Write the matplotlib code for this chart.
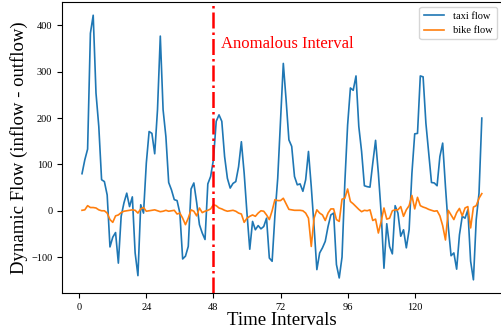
import numpy as np
import matplotlib
matplotlib.use('Agg')
from matplotlib import pyplot as plt

plt.rcParams['font.family'] = ['Liberation Serif', 'DejaVu Serif']

# time index of each sample
t = np.arange(1, 145)

taxi_flow = [80, 110, 133, 383, 422, 254, 182, 67, 63, 34,
             -78, -57, -47, -113, -12, 17, 38, 9, 30, -91,
             -140, 13, -5, 103, 171, 167, 123, 218, 377, 218,
             160, 61, 45, 24, 22, -5, -104, -98, -77, 47,
             60, 18, -30, -48, -62, 58, 74, 110, 193, 207,
             193, 117, 70, 49, 59, 63, 95, 149, 81, -5,
             -83, -23, -41, -32, -39, -34, -16, -102, -109, -10,
             70, 195, 318, 239, 153, 139, 74, 56, 58, 42,
             67, 128, 52, -34, -127, -91, -80, -66, -34, -9,
             -5, -116, -145, -100, 60, 185, 265, 260, 291, 182,
             128, 54, 52, 51, 103, 152, 81, -5, -124, -28,
             -77, -93, 11, -5, -55, -41, -80, -41, 81, 166,
             167, 291, 289, 189, 124, 61, 60, 54, 117, 146,
             52, -34, -97, -91, -126, -52, -12, -16, 2, -109,
             -149, -19, 38, 200]

bike_flow = [1, 2, 11, 7, 7, 6, 2, 0, 0, -5,
             -19, -25, -11, -9, -4, -1, 0, 1, 2, 1,
             -5, 4, 7, -1, 0, 1, 2, 0, -2, -1,
             1, -1, 0, 1, -7, -5, -16, -30, -16, 2,
             -1, -11, 6, -4, -1, 1, 4, 13, 11, 6,
             4, 1, -1, 0, 1, -1, -5, -7, -25, -16,
             -12, -9, -12, -5, 0, -1, -9, -19, 0, 24,
             22, 22, 27, 15, 3, 2, 1, 1, 1, 0,
             -5, -16, -77, -16, 2, -5, -9, -21, -5, 4,
             4, -19, -23, 25, 27, 47, 20, 15, 9, 3,
             -2, 1, 0, 2, -21, -18, -48, -23, 6, -18,
             -16, 0, 2, 2, 9, -12, 2, 11, 33, 4,
             29, 11, 8, 6, 3, 1, -1, 0, -11, -32,
             -63, 1, -9, -19, -4, 5, -11, 6, 9, -37,
             8, 11, 27, 37]

anomaly_at = 48
xticks = [0, 24, 48, 72, 96, 120]

fig = plt.figure(figsize=(5.01, 3.33), dpi=100)
ax = fig.add_axes([0.1238, 0.12, 0.8778, 0.874])

ax.plot(t, taxi_flow, color='#1f77b4', lw=1.2, label='taxi flow')
ax.plot(t, bike_flow, color='#ff7f0e', lw=1.2, label='bike flow')
ax.axvline(anomaly_at, color='red', ls='-.', lw=1.8)
ax.text(anomaly_at + 2.6, 360, 'Anomalous Interval', color='red',
        fontsize=12, va='center', ha='left')

ax.set_xticks(xticks)
ax.tick_params(labelsize=7.5)
ax.set_xlabel('Time Intervals', fontsize=13.5, labelpad=0)
ax.set_ylabel('Dynamic Flow (inflow - outflow)', fontsize=13.5, labelpad=2)
ax.legend(loc='upper right', fontsize=7.5)

fig.savefig('out.png', dpi=100)
